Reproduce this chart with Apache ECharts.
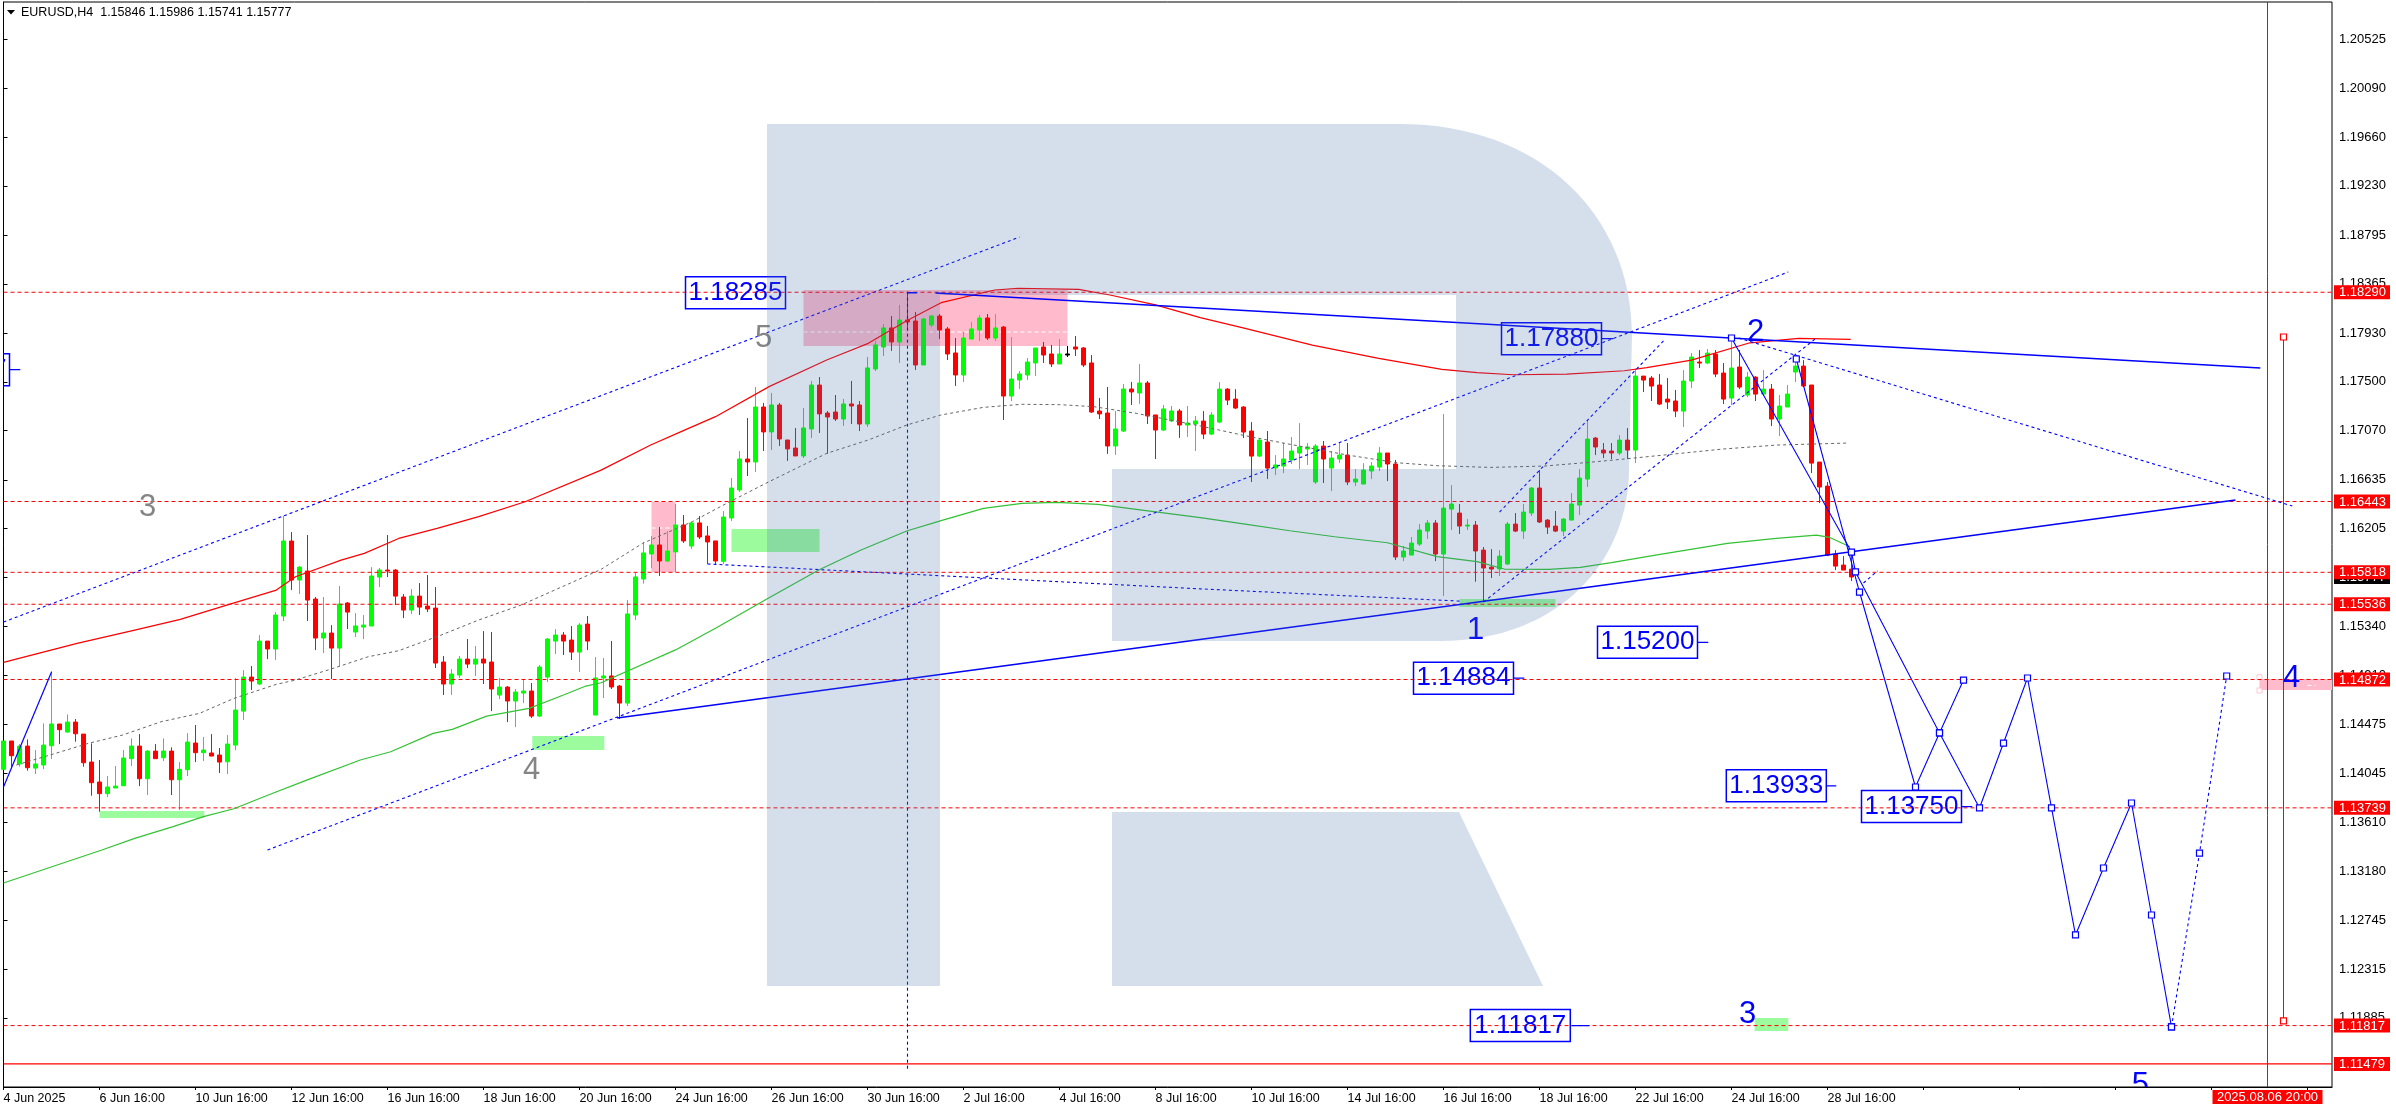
<!DOCTYPE html>
<html><head><meta charset="utf-8">
<style>html,body{margin:0;padding:0;background:#fff}#c{width:2396px;height:1110px}</style>
<script src="https://cdn.jsdelivr.net/npm/echarts@6/dist/echarts.min.js"></script>
</head><body><div id="c"></div>
<script>
const FONT='"Liberation Sans"';
const headerText='EURUSD,H4  1.15846 1.15986 1.15741 1.15777';
const timeLabels=['4 Jun 2025','6 Jun 16:00','10 Jun 16:00','12 Jun 16:00','16 Jun 16:00','18 Jun 16:00','20 Jun 16:00','24 Jun 16:00','26 Jun 16:00','30 Jun 16:00','2 Jul 16:00','4 Jul 16:00','8 Jul 16:00','10 Jul 16:00','14 Jul 16:00','16 Jul 16:00','18 Jul 16:00','22 Jul 16:00','24 Jul 16:00','28 Jul 16:00'];
const priceTicks=[1.20525,1.20090,1.19660,1.19230,1.18795,1.18365,1.17930,1.17500,1.17070,1.16635,1.16205,1.15775,1.15340,1.14910,1.14475,1.14045,1.13610,1.13180,1.12745,1.12315,1.11885];
const xMax=291.0625, yMin=1.11275, yMax=1.20852;

const opens=[1.14079,1.14329,1.14126,1.14284,1.1409,1.14117,1.14287,1.14479,1.14408,1.14496,
1.1439,1.14143,1.13967,1.13864,1.13914,1.13934,1.14173,1.14284,1.13996,1.1424,
1.14182,1.1424,1.13987,1.14076,1.14311,1.14226,1.14223,1.14205,1.14146,1.14293,
1.14593,1.14893,1.14832,1.15211,1.15141,1.15432,1.16094,1.1575,1.15829,1.15582,
1.15238,1.15282,1.15149,1.15547,1.15291,1.15335,1.15344,1.15776,1.15838,1.15838,
1.156,1.15485,1.15608,1.1552,1.15502,1.15026,1.14832,1.14911,1.15052,1.15008,
1.15052,1.15026,1.14735,1.14805,1.14682,1.14752,1.1477,1.14549,1.14893,1.15211,
1.15264,1.1522,1.15114,1.15361,1.14558,1.14885,1.14903,1.14814,1.14664,1.15441,
1.15759,1.1598,1.16059,1.15918,1.15998,1.16236,1.1605,1.16254,1.16139,1.16095,
1.15915,1.16298,1.16545,1.16818,1.16792,1.17277,1.17057,1.17295,1.16986,1.16915,
1.16845,1.17083,1.17471,1.17224,1.17233,1.17171,1.17304,1.17295,1.17127,1.17613,
1.17807,1.17975,1.17851,1.18045,1.18036,1.17648,1.18001,1.1808,1.17966,1.17754,
1.1756,1.17877,1.17957,1.18063,1.17886,1.17983,1.17374,1.17516,1.1756,1.17666,
1.17807,1.17745,1.17657,1.17745,1.17807,1.17798,1.17666,1.17242,1.17224,1.16933,
1.17065,1.17436,1.17401,1.17489,1.17207,1.17074,1.17154,1.17242,1.17118,1.17127,
1.17153,1.17038,1.17144,1.17435,1.17347,1.17277,1.17065,1.16844,1.16968,1.16738,
1.16756,1.16809,1.16871,1.16906,1.16615,1.16932,1.16738,1.16818,1.16853,1.16615,
1.16597,1.16712,1.16747,1.16871,1.16774,1.15953,1.1597,1.16067,1.16182,1.16253,
1.15979,1.16376,1.16341,1.16226,1.16235,1.16014,1.15864,1.15847,1.15891,1.16244,
1.16182,1.16341,1.16562,1.16279,1.16226,1.16182,1.16279,1.16412,1.16641,1.17003,
1.16897,1.16888,1.16871,1.16985,1.16897,1.1755,1.17533,1.17471,1.17347,1.1733,
1.17241,1.17506,1.17674,1.17665,1.17744,1.17577,1.17356,1.1763,1.17383,1.17541,
1.17391,1.17435,1.17171,1.17277,1.17586,1.17638,1.17471,1.16791,1.16579,1.15979,
1.15882,1.15846];
const highs=[1.14329,1.14329,1.14302,1.14343,1.14249,1.14485,1.14947,1.14479,1.14564,1.14523,
1.1439,1.14308,1.14161,1.1402,1.14108,1.14249,1.14352,1.1439,1.14249,1.14302,
1.14352,1.14273,1.14143,1.14399,1.1447,1.14364,1.1439,1.14267,1.14382,1.14885,
1.14955,1.14991,1.15264,1.15211,1.15467,1.16317,1.16173,1.15873,1.16147,1.156,
1.156,1.15352,1.15697,1.15555,1.15458,1.15441,1.15864,1.15856,1.16147,1.15847,
1.15626,1.1567,1.15723,1.15794,1.15688,1.15079,1.14964,1.15079,1.15229,1.15167,
1.15299,1.15291,1.14885,1.14814,1.14788,1.14867,1.14841,1.14999,1.15238,1.15317,
1.15291,1.15344,1.1537,1.15432,1.1507,1.15062,1.15212,1.14823,1.15573,1.15815,
1.16086,1.16139,1.16218,1.16183,1.16421,1.16324,1.16262,1.16315,1.16227,1.16095,
1.16359,1.16651,1.16889,1.1718,1.17454,1.17313,1.17401,1.17313,1.16986,1.17092,
1.17268,1.17507,1.17542,1.17242,1.17383,1.17348,1.17507,1.1733,1.17719,1.1786,
1.1801,1.1808,1.18178,1.1829,1.18116,1.18063,1.18089,1.18098,1.17983,1.17886,
1.17939,1.18028,1.18089,1.18098,1.18098,1.17992,1.17895,1.17595,1.1771,1.17798,
1.17851,1.17825,1.17877,1.17816,1.17904,1.17807,1.17736,1.17357,1.17454,1.17242,
1.1748,1.17498,1.17657,1.17507,1.17207,1.17295,1.17286,1.1726,1.17286,1.17198,
1.17241,1.17232,1.17497,1.17444,1.17435,1.17285,1.17144,1.16994,1.17065,1.16853,
1.16959,1.17012,1.17135,1.16959,1.1695,1.16977,1.16888,1.16968,1.16959,1.16729,
1.16782,1.16791,1.16924,1.16871,1.16809,1.1605,1.16129,1.16244,1.16279,1.16279,
1.17215,1.16588,1.16421,1.16288,1.16271,1.16041,1.16023,1.16014,1.16262,1.16341,
1.16421,1.16571,1.16721,1.16288,1.16359,1.16297,1.16518,1.16729,1.17162,1.17012,
1.16959,1.16959,1.17029,1.17091,1.17612,1.1755,1.1755,1.17568,1.17533,1.17427,
1.17603,1.17753,1.1778,1.17789,1.1778,1.17665,1.17868,1.1778,1.17586,1.1755,
1.17603,1.1748,1.17383,1.17471,1.17736,1.17691,1.17471,1.16791,1.16615,1.16014,
1.15961,1.15986];
const lows=[1.14079,1.14102,1.14102,1.14067,1.14037,1.14081,1.1417,1.14302,1.14402,1.14323,
1.14102,1.13846,1.13705,1.13834,1.13914,1.13934,1.14108,1.13931,1.13852,1.14173,
1.14152,1.13852,1.1372,1.1402,1.14143,1.14152,1.14196,1.14046,1.14037,1.14249,
1.14514,1.14779,1.14823,1.15052,1.15044,1.15388,1.15661,1.15626,1.15388,1.15132,
1.15105,1.14876,1.14991,1.15317,1.15247,1.15229,1.15344,1.15688,1.15776,1.15529,
1.15414,1.1545,1.15441,1.15467,1.14973,1.14735,1.14735,1.14885,1.14973,1.14902,
1.14832,1.14593,1.14699,1.14496,1.14452,1.14664,1.14532,1.1454,1.14849,1.15097,
1.15088,1.15044,1.14938,1.15132,1.14558,1.14708,1.14788,1.14523,1.14638,1.15397,
1.15718,1.15853,1.15786,1.15909,1.15821,1.16077,1.16024,1.16112,1.15892,1.15892,
1.15892,1.16271,1.16527,1.16668,1.16704,1.16889,1.16898,1.16933,1.16801,1.16845,
1.16827,1.17004,1.17048,1.16863,1.17154,1.1711,1.17127,1.17065,1.17101,1.17595,
1.17727,1.17772,1.17666,1.17957,1.17604,1.17648,1.17983,1.17877,1.17692,1.17463,
1.17498,1.17877,1.1786,1.17869,1.1786,1.17163,1.1733,1.17436,1.17516,1.17551,
1.17666,1.1763,1.17657,1.17719,1.17727,1.1763,1.17224,1.17171,1.16863,1.16854,
1.17057,1.17295,1.17304,1.17127,1.16818,1.17065,1.17145,1.17004,1.17013,1.16889,
1.16994,1.17029,1.17135,1.17294,1.17259,1.17003,1.16615,1.16835,1.16641,1.16676,
1.16694,1.16774,1.16729,1.16765,1.16597,1.16606,1.16535,1.16782,1.16588,1.16579,
1.16597,1.16641,1.16712,1.16623,1.15926,1.15917,1.1597,1.1605,1.16112,1.15917,
1.15608,1.16191,1.16156,1.16191,1.15735,1.15558,1.15767,1.15785,1.15882,1.16173,
1.16112,1.16315,1.16253,1.16156,1.16173,1.16138,1.16279,1.16323,1.16571,1.16853,
1.16826,1.16818,1.16853,1.16818,1.16782,1.17409,1.1733,1.17294,1.17259,1.17188,
1.171,1.17444,1.17621,1.17656,1.17541,1.17303,1.17294,1.17435,1.17365,1.1733,
1.17374,1.17109,1.17021,1.17277,1.17497,1.17453,1.16694,1.16429,1.15961,1.15838,
1.15838,1.15741];
const closes=[1.14329,1.14199,1.14284,1.14093,1.14126,1.14293,1.14479,1.14429,1.14496,1.14393,
1.14137,1.13961,1.13864,1.13923,1.13931,1.14179,1.14284,1.13996,1.1424,1.14173,
1.1424,1.13987,1.14079,1.1432,1.14226,1.14249,1.14196,1.14143,1.14302,1.14602,
1.14893,1.14858,1.15211,1.15141,1.15441,1.16094,1.1575,1.15864,1.15573,1.15238,
1.15282,1.15149,1.15538,1.15467,1.15344,1.15352,1.15785,1.15838,1.15829,1.15608,
1.15485,1.15608,1.15511,1.15494,1.15017,1.14832,1.1492,1.15052,1.15008,1.15052,
1.15017,1.14788,1.14805,1.14682,1.14761,1.1477,1.14549,1.14982,1.15229,1.15264,
1.15211,1.15114,1.15352,1.15211,1.14885,1.14903,1.14806,1.14664,1.1545,1.15777,
1.15989,1.16059,1.15918,1.16006,1.16236,1.16095,1.16254,1.1613,1.16086,1.15918,
1.16306,1.16562,1.16818,1.16792,1.17277,1.17057,1.17295,1.16995,1.16907,1.16845,
1.17092,1.17471,1.17216,1.17189,1.17171,1.17304,1.17286,1.17127,1.17622,1.17825,
1.17975,1.17851,1.18045,1.18028,1.17648,1.18054,1.1808,1.17957,1.17745,1.1756,
1.17886,1.17966,1.18063,1.17886,1.17975,1.17374,1.17524,1.17569,1.17674,1.17798,
1.17736,1.17657,1.17745,1.17736,1.17789,1.17648,1.17233,1.17216,1.16933,1.17083,
1.17436,1.1741,1.17489,1.17198,1.17074,1.1726,1.17242,1.17118,1.17136,1.17154,
1.17038,1.17206,1.17435,1.17338,1.17268,1.17056,1.16844,1.16985,1.16738,1.16765,
1.16818,1.16888,1.16924,1.16924,1.16932,1.16818,1.16826,1.16853,1.16615,1.16641,
1.16721,1.16756,1.16871,1.16774,1.15953,1.16006,1.16076,1.16191,1.16253,1.15979,
1.16385,1.16421,1.16226,1.16235,1.16006,1.15856,1.15847,1.15961,1.16244,1.16182,
1.1635,1.16562,1.16262,1.16217,1.16182,1.16288,1.16421,1.1665,1.16994,1.16924,
1.16871,1.16871,1.16985,1.16897,1.1755,1.17515,1.17462,1.17303,1.17321,1.17241,
1.17506,1.17718,1.17665,1.17753,1.17568,1.17347,1.17621,1.17453,1.17541,1.17391,
1.17435,1.17171,1.17285,1.17391,1.17638,1.17462,1.16782,1.16571,1.1597,1.15873,
1.15838,1.15777];
const blackDoji=[133];

const upperBand=[[0,1.15023],[9.2,1.15191],[16.4,1.15308],[22.1,1.15402],[27.9,1.15529],[34.1,1.15661],[36.5,1.15779],[42.2,1.15926],[45.1,1.15985],[49.4,1.16117],[54.2,1.16206],[59.4,1.16309],[65.2,1.16441],[74.7,1.1672],[80.9,1.16942],[84.7,1.1706],[89,1.17192],[95.7,1.17457],[102.9,1.17692],[108.1,1.17839],[112.9,1.18039],[117.2,1.18198],[123.9,1.1831],[126.8,1.18325],[134.4,1.18316],[138.3,1.18266],[144,1.18178],[149.6,1.18066],[155.2,1.17971],[163.6,1.17824],[171.9,1.17706],[179.8,1.17609],[184.2,1.1758],[188.7,1.17562],[195.4,1.17568],[202.6,1.17597],[205.4,1.17624],[211,1.17691],[218.3,1.17844],[224.4,1.17883],[230.9,1.17874]];
const midBand=[[1.6,1.14117],[5.8,1.14205],[10.6,1.14308],[14.9,1.14382],[19.7,1.14499],[24.5,1.14573],[28.8,1.14705],[34.1,1.14829],[36.5,1.14867],[40.8,1.14961],[45.6,1.15073],[49.4,1.15126],[54.7,1.15264],[59.4,1.15397],[64.7,1.15529],[74.7,1.15844],[79.9,1.16074],[86.1,1.16265],[90.4,1.16427],[95.7,1.16618],[102.9,1.16868],[108.1,1.16986],[112.9,1.17118],[117.2,1.17207],[122.5,1.17274],[127.3,1.17301],[132,1.17298],[136.3,1.1728],[141.6,1.17221],[149.6,1.1711],[155.2,1.17024],[160.2,1.16956],[168,1.16853],[174.2,1.16785],[179.2,1.16759],[185.9,1.16744],[192.6,1.16756],[197.6,1.16785],[202.6,1.16818],[208.8,1.16862],[214.9,1.16906],[221.6,1.16941],[230.5,1.16959]];
const lowerBand=[[0,1.13076],[12.3,1.13367],[16.4,1.1347],[21.2,1.13573],[25,1.13661],[28.8,1.13731],[33.1,1.13852],[37.9,1.13984],[44.6,1.14161],[48.4,1.14234],[53.7,1.14396],[56.1,1.14432],[60.4,1.14549],[65.7,1.14617],[70,1.14735],[72.8,1.14814],[74.7,1.14843],[84,1.15133],[89,1.15324],[95.2,1.15574],[101.9,1.15839],[107.2,1.16015],[112.9,1.16183],[117.2,1.16274],[122.5,1.16383],[127.3,1.16427],[131.6,1.16436],[136.8,1.16418],[141.6,1.16374],[149.6,1.16301],[155.2,1.16244],[160.8,1.16185],[166.4,1.16132],[173,1.16079],[179.2,1.15956],[184.2,1.15912],[187.6,1.15847],[193.2,1.15844],[197.1,1.15862],[201,1.15903],[206.5,1.1597],[215.5,1.16073],[221.6,1.16117],[226.6,1.16147],[228.3,1.16126],[230.8,1.16044]];

const dottedChannels=[
 [[0,1.15379],[127,1.18777]],
 [[33,1.13367],[223.1,1.18469]],
 [[187,1.1635],[207.6,1.17868]],
 [[185,1.15556],[226.6,1.17886]],
 [[216.9,1.17886],[286.1,1.16403]],
 [[88,1.15892],[149.6,1.15672],[182,1.15564]],
 [[113,1.18295],[113,1.11416]],
 [[232.5,1.15724],[234.25,1.1583]]
];
const solidTrends=[
 [[76.7,1.14532],[279,1.16456]],
 [[116.5,1.18283],[282.1,1.17621]],
 [[113,1.18285],[114.2,1.18285]]
];
const forecastA=[[224.1,1.17701],[232,1.15644],[239,1.13923],[242,1.144],[245,1.14867]];
const forecastB=[[216,1.17886],[231,1.15997],[231.5,1.15821],[242,1.144],[247,1.13738],[250,1.14311],[253,1.14885],[256,1.13738],[259,1.12617],[262.5,1.13208],[266,1.13782],[268.5,1.12793],[271,1.11805]];
const forecastDotted=[[271,1.11805],[274.5,1.1334],[277.9,1.14903]];
const leftImpulse=[[0,1.13923],[6,1.14938]];

const dashedLevels=[1.1829,1.16443,1.15818,1.15536,1.14872,1.13739,1.11817];
const solidLevel=1.11479;
const badgeValues=[1.15777,1.1829,1.16443,1.15818,1.15536,1.14872,1.13739,1.11817,1.11479];
const timeCursorX=283, timeCursorText='2025.08.06 20:00';
const rangeBar=[[285,1.17895],[285,1.11858]];

const pinkZones=[[100,1.1831,133,1.17815],[81,1.16439,84,1.15821],[282,1.14876,291.0625,1.14779]];
const greenZones=[[91,1.162,102,1.15997],[12,1.13711,25.1,1.13649],[66.1,1.14373,75.1,1.1425],[182,1.15582,194,1.15512],[218.9,1.11884,223.1,1.11769]];
const zoneMidlines=[[[100,1.17939],[133,1.17939]],[[81,1.16209],[84,1.16209]],[[288,1.1482],[289,1.1482]]];
const zoneHandles=[[282,1.14892],[282,1.14775]];

const calloutX=[91.5,193.5,205.5,182.5,221.6,238.5,189.6,-5.5];
const calloutValue=[1.18285,1.1788,1.152,1.14884,1.13933,1.1375,1.11817,1.17607];
const calloutStem=[[199.75,201.25,1.1788],[211.75,213.1,1.152],[188.75,190.1,1.14884],[227.9,229.1,1.13933],[244.75,246.1,1.1375],[196,198.25,1.11817],[0.75,2.1,1.17607]];

const waveX=[18,66,95,184,219,218,286,267.1];
const waveY=[1.16394,1.14073,1.17886,1.15309,1.17939,1.11911,1.14885,1.11293];
const waveText=['3','4','5','1','2','3','4','5'];
const waveGray=[true,true,true,false,false,false,false,false];

function lineS(data,color,width,dash,extra){
 return Object.assign({type:'line',data:data,symbol:'none',silent:true,z:4,
   lineStyle:{color:color,width:width,type:dash||'solid'},itemStyle:{color:color}},extra||{});
}
const nodeOpts=c=>({symbol:'rect',symbolSize:6,showSymbol:true,showAllSymbol:true,itemStyle:{color:'#fff',borderColor:c,borderWidth:1.2}});

const series=[];
function zoneS(rows,color){
 series.push({type:'custom',silent:true,z:1,clip:true,data:rows,encode:{x:[0,2],y:[1,3]},
  renderItem:(p,api)=>{const a=api.coord([api.value(0),api.value(1)]),b=api.coord([api.value(2),api.value(3)]);
   return {type:'rect',shape:{x:a[0],y:a[1],width:b[0]-a[0],height:b[1]-a[1]},style:{fill:color}};}});
}
zoneS(pinkZones,'#ffbbcc');zoneS(greenZones,'#9cfb9c');
zoneMidlines.forEach(d=>series.push(lineS(d,'#ffffff',1,[4,3],{z:1.5})));
series.push({type:'scatter',data:zoneHandles,symbol:'rect',symbolSize:5,silent:true,z:2,itemStyle:{color:'#fff',borderColor:'#ffbbcc',borderWidth:1}});

series.push({type:'candlestick',silent:true,z:3,barWidth:4,encode:{x:0,y:[1,2,3,4]},
 itemStyle:{color:'#00ff00',color0:'#ff0000',borderColor:'#00ff00',borderColor0:'#ff0000',borderWidth:1},
 data:opens.map((o,i)=>{const v=[i,o,closes[i],lows[i],highs[i]];
   return blackDoji.includes(i)?{value:v,itemStyle:{color:'#000',color0:'#000',borderColor:'#000',borderColor0:'#000'}}:v;})});

dashedLevels.forEach(v=>series.push(lineS([[0,v],[xMax,v]],'#ff0000',1,[4,3])));
series.push(lineS([[0,solidLevel],[xMax,solidLevel]],'#ff0000',1.4));
series.push(lineS([[timeCursorX,yMin],[timeCursorX,yMax]],'#ff0000',1));

series.push(lineS(upperBand,'#ff0000',1.2));
series.push(lineS(midBand,'#666666',1,[3,3]));
series.push(lineS(lowerBand,'#33c233',1.2));
dottedChannels.forEach(d=>series.push(lineS(d,'#0000ff',1.1,[3,3])));
solidTrends.forEach(d=>series.push(lineS(d,'#0000ff',1.6)));
series.push(lineS(leftImpulse,'#0000ff',1.2));
series.push(lineS(forecastA,'#0000ff',1.1,'solid',nodeOpts('#0000ff')));
series.push(lineS(forecastB,'#0000ff',1.1,'solid',nodeOpts('#0000ff')));
series.push(lineS(forecastDotted,'#0000ff',1.1,[3,3],nodeOpts('#0000ff')));
series.push(lineS(rangeBar,'#ff0000',1,'solid',nodeOpts('#ff0000')));
calloutStem.forEach(s=>series.push(lineS([[s[0],s[2]],[s[1],s[2]]],'#0000ff',1.2)));

series.push({type:'custom',silent:true,z:6,clip:true,encode:{x:0,y:1},
 data:calloutX.map((x,i)=>[x,calloutValue[i]]),
 renderItem:(p,api)=>{const c=api.coord([api.value(0),api.value(1)]);
  return {type:'group',children:[
   {type:'rect',shape:{x:c[0]-50,y:c[1]-16,width:100,height:32},style:{fill:'none',stroke:'#0000ff',lineWidth:1.5}},
   {type:'text',x:c[0],y:c[1],style:{text:calloutValue[p.dataIndex].toFixed(5),fill:'#0000ff',font:'26px '+FONT,align:'center',verticalAlign:'middle',textAlign:'center',textVerticalAlign:'middle'}}]};}});
series.push({type:'custom',silent:true,z:6,clip:true,encode:{x:0,y:1},
 data:waveX.map((x,i)=>[x,waveY[i]]),
 renderItem:(p,api)=>{const c=api.coord([api.value(0),api.value(1)]);
  return {type:'text',x:c[0],y:c[1],style:{text:waveText[p.dataIndex],fill:waveGray[p.dataIndex]?'#858585':'#0000ff',font:'31px '+FONT,align:'center',verticalAlign:'middle',textAlign:'center',textVerticalAlign:'middle'}};}});
series.push({type:'custom',silent:true,z:20,clip:false,encode:{x:0,y:1},
 data:badgeValues.map(v=>[xMax,v]),
 renderItem:(p,api)=>{const c=api.coord([api.value(0),api.value(1)]);const black=p.dataIndex===0;
  return {type:'group',children:[
   {type:'rect',z2:p.dataIndex*2,shape:{x:c[0]+2,y:c[1]-7,width:56,height:14},style:{fill:black?'#000':'#ff0000'}},
   {type:'text',z2:p.dataIndex*2+1,x:c[0]+7,y:c[1]+0.5,style:{text:api.value(1).toFixed(5),fill:'#fff',font:'13px '+FONT,align:'left',verticalAlign:'middle',textAlign:'left',textVerticalAlign:'middle'}}]};}});
series.push({type:'custom',silent:true,z:20,clip:false,encode:{x:0,y:1},data:[[timeCursorX,yMin]],
 renderItem:(p,api)=>{const c=api.coord([api.value(0),api.value(1)]);
  return {type:'group',children:[
   {type:'rect',shape:{x:c[0]-55,y:c[1]+3,width:110,height:14},style:{fill:'#ff0000'}},
   {type:'text',x:c[0],y:c[1]+10.5,style:{text:timeCursorText,fill:'#fff',font:'13px '+FONT,align:'center',verticalAlign:'middle',textAlign:'center',textVerticalAlign:'middle'}}]};}});

// brand watermark, laid over the chart
const logoPath='M767 124 L1400 124 C1540 124 1632 215 1632 335 L1629 469 C1629 560 1560 641 1440 641 L1112 641 L1112 469 L1456 469 L1456 295 L940 295 L940 986 L767 986 Z M1112 812 L1459 812 L1543 986 L1112 986 Z';
series.push({type:'custom',silent:true,z:10,clip:false,encode:{x:0,y:1},data:[[0,yMin]],
 renderItem:()=>({type:'path',shape:{pathData:logoPath},style:{fill:'rgba(70,114,172,0.227)'}})});

const chart=echarts.init(document.getElementById('c'),null,{renderer:'canvas'});
chart.setOption({
 animation:false,backgroundColor:'#fff',
 textStyle:{fontFamily:FONT},
 title:{text:headerText,left:21,top:6,padding:0,textStyle:{fontSize:12.5,fontWeight:'normal',color:'#000',fontFamily:FONT}},
 grid:{left:3.5,top:2,right:64,bottom:23,show:true,borderColor:'#000',borderWidth:1,backgroundColor:'transparent'},
 xAxis:{type:'value',min:0,max:xMax,interval:12,splitLine:{show:false},
   axisLine:{show:true,lineStyle:{color:'#000'}},axisTick:{show:true,length:3,lineStyle:{color:'#000'}},
   axisLabel:{color:'#000',fontSize:12.5,fontFamily:FONT,margin:5,align:'left',showMaxLabel:false,
     formatter:v=>timeLabels[v/12]||''}},
 yAxis:{type:'value',position:'right',min:yMin,max:yMax,splitLine:{show:false},
   axisLine:{show:true,lineStyle:{color:'#000'}},
   axisTick:{show:true,length:4,lineStyle:{color:'#000'},customValues:priceTicks},
   axisLabel:{color:'#000',fontSize:13,fontFamily:FONT,margin:7,customValues:priceTicks,formatter:v=>v.toFixed(5)}},
 graphic:[{type:'polygon',silent:true,shape:{points:[[7,10],[15,10],[11,14.5]]},style:{fill:'#000'}}],
 series:series
});
</script></body></html>
